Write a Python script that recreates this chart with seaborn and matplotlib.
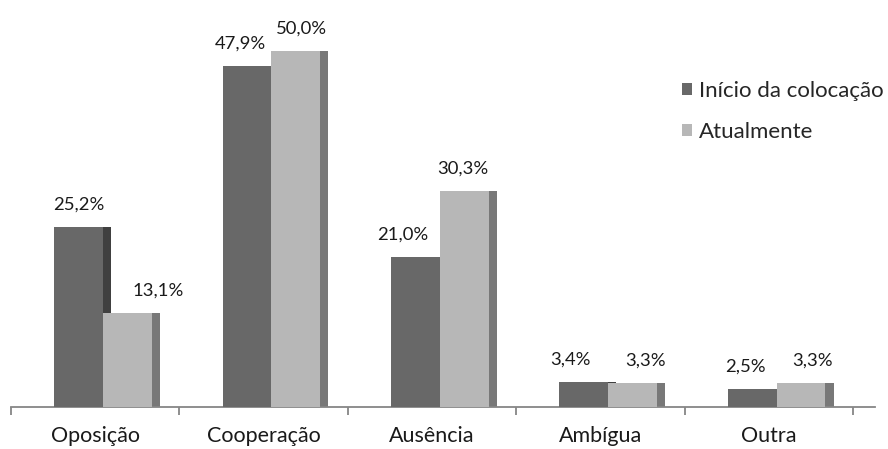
import matplotlib
matplotlib.use("Agg")
import matplotlib.pyplot as plt
from matplotlib.patches import Patch
import pandas as pd
import seaborn as sns

# Dados do gráfico
categorias = ['Oposição', 'Cooperação', 'Ausência', 'Ambígua', 'Outra']
inicio = [25.2, 47.9, 21.0, 3.4, 2.5]
atual = [13.1, 50.0, 30.3, 3.3, 3.3]
series = ['Início da colocação', 'Atualmente']

cor_frente = ['#686868', '#b7b7b7']
cor_lado = ['#404040', '#787878']

# ajuste horizontal dos rótulos (px), como o Excel os deixou
ajuste_rotulos = [[0, -7, -13, -13, -7],
                  [31, 6, -1, 13, 11]]

df = pd.DataFrame({
    'categoria': categorias * 2,
    'valor': inicio + atual,
    'momento': [series[0]] * len(categorias) + [series[1]] * len(categorias),
})

sns.set_style('white')
plt.rcParams['font.family'] = ['Lato', 'DejaVu Sans']

fig = plt.figure(figsize=(8.88, 4.49), dpi=100)
ax = fig.add_axes([11 / 888, 42.5 / 449, 864 / 888, 398.5 / 449])

sns.barplot(data=df, x='categoria', y='valor', hue='momento',
            palette=cor_frente, width=0.58, saturation=1, linewidth=0,
            legend=False, ax=ax)

# efeito 3D: desloca as barras e acrescenta a face lateral
deslocamento = 0.046
lado = 0.048
conts = list(ax.containers)
for k, cont in enumerate(conts):
    for i, p in enumerate(cont.patches):
        p.set_x(p.get_x() + deslocamento)
        p.set_zorder(3)
        ax.bar(p.get_x() + p.get_width(), p.get_height(), width=lado,
               align='edge', color=cor_lado[k], linewidth=0, zorder=2)
        rotulo = f'{p.get_height():.1f}'.replace('.', ',') + '%'
        ax.annotate(rotulo, (p.get_x() + p.get_width() / 2, p.get_height()),
                    xytext=(ajuste_rotulos[k][i] * 0.72, 16),
                    textcoords='offset points',
                    ha='center', va='center', fontsize=13.3, color='#1a1a1a')

ax.set_xlim(-0.5, 4.63)
ax.set_ylim(0, 56)
ax.set_xlabel('')
ax.set_ylabel('')
ax.set_yticks([])

for s in ['top', 'right', 'left']:
    ax.spines[s].set_visible(False)
ax.spines['bottom'].set_color('#868686')
ax.spines['bottom'].set_linewidth(1.3)

ax.set_xticks(range(len(categorias)))
ax.set_xticklabels(categorias, fontsize=15.5, color='#1a1a1a')
ax.set_xticks([i - 0.5 for i in range(len(categorias) + 1)], minor=True)
ax.tick_params(axis='x', which='major', length=0, pad=14)
ax.tick_params(axis='x', which='minor', length=6, width=1.3, color='#868686',
               bottom=True)

handles = [Patch(facecolor=c, edgecolor='none') for c in cor_frente]
ax.legend(handles, series, loc='upper left', frameon=False,
          bbox_to_anchor=(682 / 888, 1 - 81 / 449),
          bbox_transform=fig.transFigure, fontsize=16,
          handlelength=0.45, handleheight=0.45, handletextpad=0.32,
          labelspacing=0.95, borderaxespad=0, borderpad=0)

fig.savefig('out.png', dpi=100)
